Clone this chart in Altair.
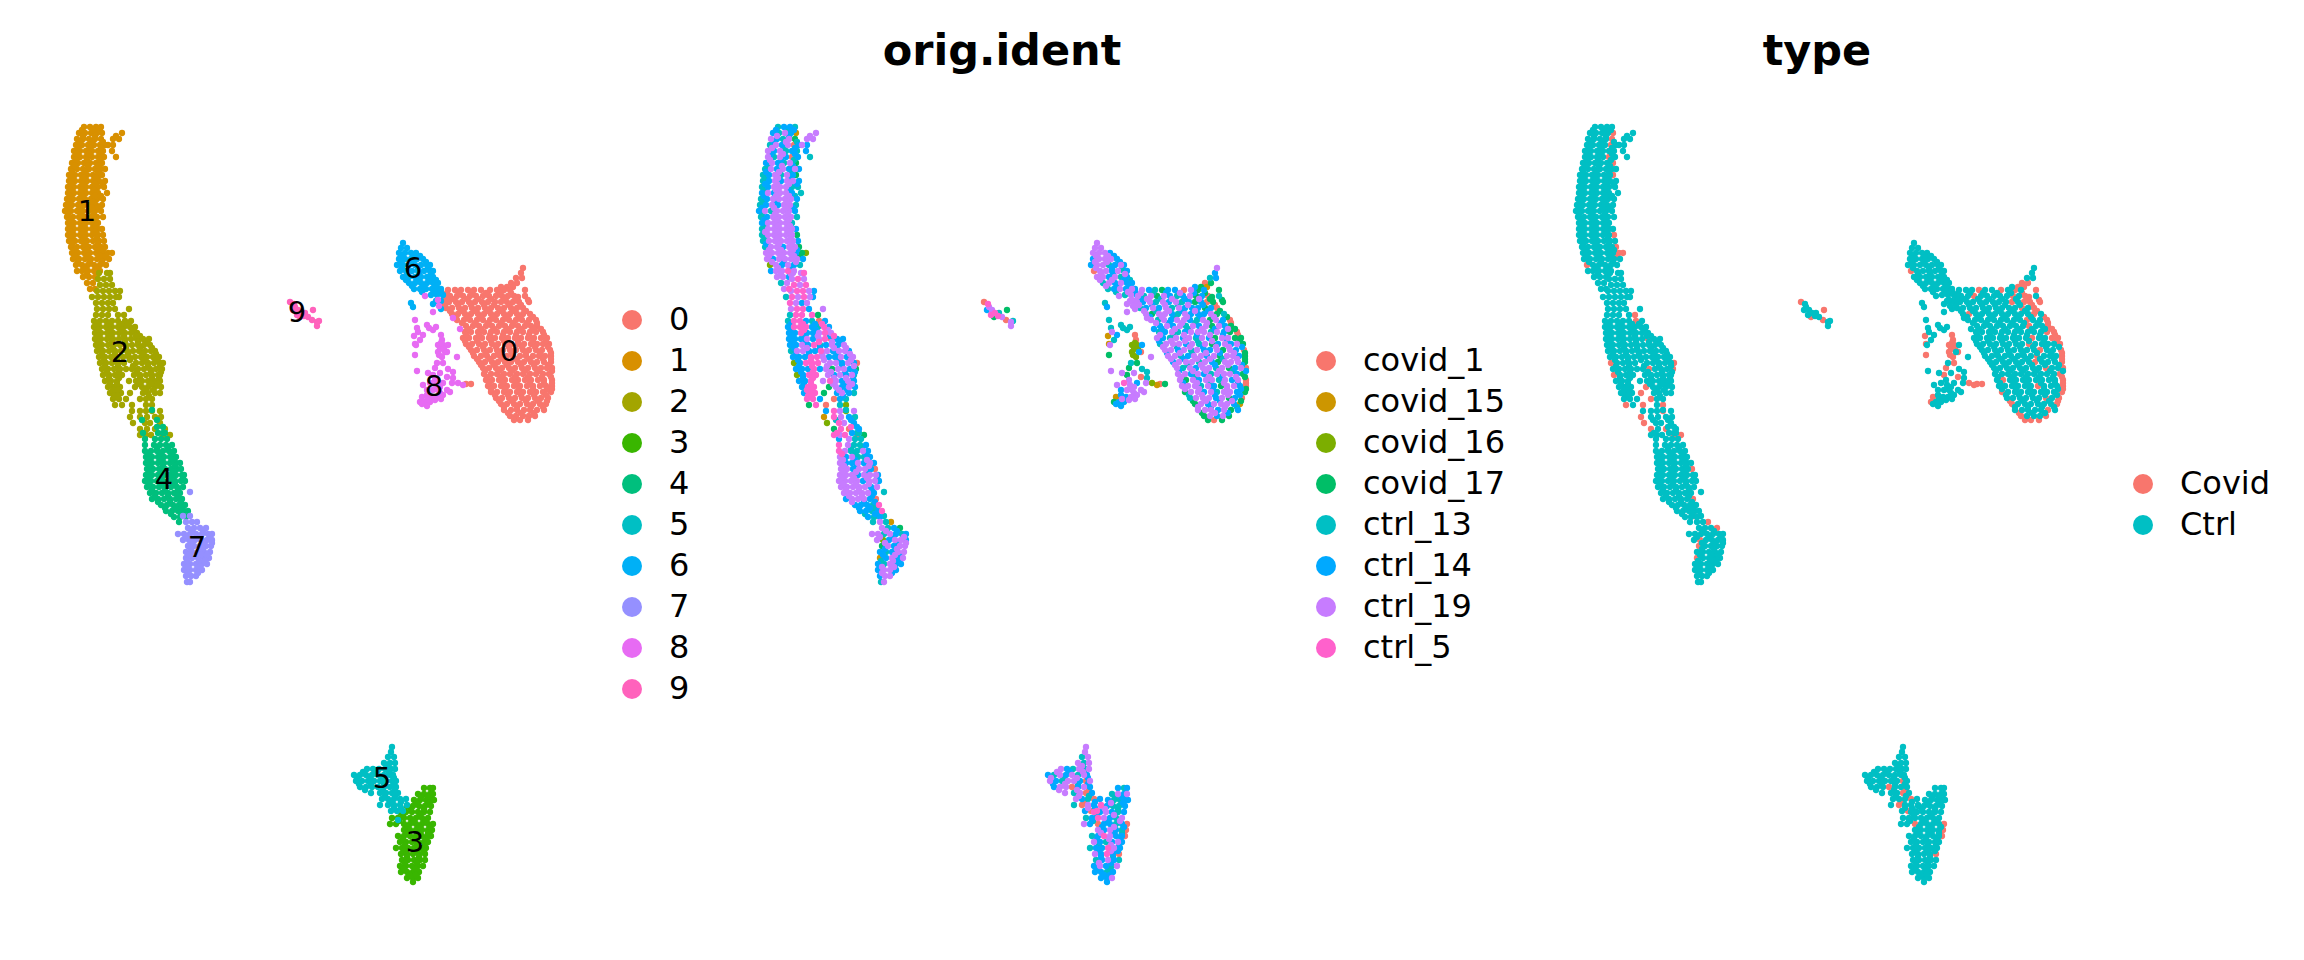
import altair as alt
import pandas as pd

# Every row: (y, x positions read along that row, sample code of each point)
C0 = [(268,"523","g"),(273,"521","f"),(278,"516 522","ef"),(283,"511 517","ad"),(287,"501 507 513","fdb"),
(290,"448 455 461 468 474 481 490 497 504 510","gfedffagdf"),
(296,"444 450 457 463 470 476 483 489 496 502 508 514 525","gegdgfefgdfae"),
(302,"443 449 456 462 469 475 482 488 495 501 507 513 519 529","gfgegfgefdfadd"),
(308,"446 452 459 465 472 478 485 491 498 504 511 517 523","efgfgegfffdfa"),
(314,"452 458 465 471 478 484 491 497 504 510 517 523 530","gdggfegfffgde"),
(320,"457 464 470 477 483 490 496 503 509 516 522 529 536","gegfggfegdgfa"),
(326,"466 473 479 486 492 499 505 512 518 525 531 537","fgfgegfgdgfd"),
(332,"465 471 478 484 491 497 504 510 517 523 530 536 543","efgefgggegfda"),
(338,"463 469 476 482 489 495 502 508 515 521 528 534 541 547","gfegfgegfdggdd"),
(344,"466 472 479 485 492 498 505 511 518 524 531 537 543 549","egggfgegdfgfgd"),
(350,"471 477 484 490 497 503 510 516 523 529 536 542 550","ggfgegffgdgfa"),
(356,"474 481 487 494 500 507 513 520 526 533 539 545 551","ggefggfgdggfd"),
(362,"479 485 492 498 505 511 518 524 531 537 544 551","fgggegfdgggd"),
(368,"483 489 496 502 509 515 522 528 535 541 547 552","gegfggegdfga"),
(374,"484 491 497 504 510 517 523 530 536 543 549","ggfgfegggfd"),
(380,"486 492 499 505 512 518 525 531 538 544 552","gdgfggegfga"),
(386,"488 494 501 507 514 520 527 533 540 546 552","gggegfdggfa"),
(392,"491 497 504 510 517 523 530 536 543 551","dggfgeggfd"),
(398,"496 502 509 515 522 528 535 541 548","egggfgdfa"),
(404,"501 507 514 520 527 533 540 546","dgfgggfb"),
(410,"504 511 517 524 530 537 544","gggfgdf"),
(416,"510 516 523 529 535","dgfgd"),
(420,"514 520 528","dad"),
(290,"525","d"),(297,"518","d"),(300,"528","d"),(384,"466 471","ad"),
(293,"447 459 472 486 500 511","gefgfd"),(299,"446 453 467 478 491 505 516","fgegfgd"),
(305,"445 458 471 484 494 509 521","gfgegfa"),(311,"450 462 475 488 501 514 526","gegfgfd"),
(317,"456 468 481 493 507 520 533","fgegfgd"),(323,"462 475 488 501 513 527 537","gfgegfa"),
(329,"468 481 494 508 521 534 541","fgegfgd"),(335,"466 479 490 503 516 529 544","gegfgfa"),
(341,"465 477 491 504 518 533 546","fggegfd"),(347,"469 483 496 509 522 535 548","gegfggf"),
(353,"473 486 498 512 526 540 551","fgegfgd"),(359,"477 490 503 516 529 543 551","gfggegd"),
(365,"481 494 507 521 534 548","gegfgf"),(371,"485 499 512 525 539 552","fgggef"),
(377,"487 501 515 528 542 551","gegfgd"),(383,"489 503 516 530 544 552","fgegfa"),
(389,"491 505 519 533 547 552","ggfgfd"),(395,"495 508 521 534 546","egfgf"),
(401,"499 512 526 538 547","dgfgd"),(407,"504 517 531 543","gfge"),(413,"508 521 534","dgf")]

C1 = [(127,"84 90 96 101","effe"),(133,"79 85 91 97 102 122","fegfbg"),
(139,"77 83 89 95 101 113 119","gfegdgg"),(145,"76 82 88 94 100 105 108 113","egfgafgf"),
(151,"74 80 86 92 98 103 112","gfgefef"),(157,"74 80 86 92 98 104 116","gegfafe"),
(163,"72 78 84 90 96 102","fgfegd"),(169,"71 77 83 89 95 101 105","egfgfgf"),
(175,"69 75 81 87 93 99 102","efgegfd"),(181,"69 75 81 87 93 99 105","efgfggf"),
(187,"68 74 80 86 92 98 104","efgggee"),(193,"68 74 80 86 92 98 107","fgfggfe"),
(199,"67 73 79 85 91 97 103","efggggf"),(205,"66 72 78 84 90 96 102","efgfgge"),
(211,"65 71 77 83 89 95 101","fgegggf"),(217,"67 73 79 85 91 97 103","efgggge"),
(223,"68 74 80 86 92 98","fgggge"),(229,"68 74 80 86 92 98 102","egggggf"),
(235,"68 74 80 86 92 98 103","egggggd"),(241,"69 75 81 87 93 99 104","egggggf"),
(247,"71 77 83 89 95 101 105","eggfggd"),(253,"72 78 84 90 96 102 108 112","gggggfdc"),
(259,"73 79 85 91 97 103 109","gfggggf"),(265,"76 82 88 94 100 106","cgfgfe"),
(271,"77 82 88 94 100","fgghg"),(277,"83 89 95","ggf"),(283,"87 93","eg"),(289,"90 95","gh"),
(130,"82 93 100","fef"),(136,"83 95 116","gfg"),(142,"80 92 103","fge"),(148,"78 90 101","gef"),
(154,"77 89 101","fgf"),(160,"76 87 100","gfe"),(166,"75 88 99","egf"),(172,"72 85 98","fge"),
(178,"72 84 96","egf"),(184,"71 83 95 103","fggf"),(190,"70 82 94","egf"),(196,"70 82 95 101","fgge"),
(202,"69 81 93","efg"),(208,"68 80 92 99","fggf"),(214,"68 81 94","egg"),(220,"70 83 95","fgg"),
(226,"71 84 96","egg"),(232,"71 83 95","ggg"),(238,"71 84 97","egg"),(244,"72 85 98","fgg"),
(250,"75 87 99 103","gggf"),(256,"75 88 100 106","gggd"),(262,"78 90 102","gfg"),(268,"84 96","gf"),(274,"87 97","gg")]

C2 = [(273,"99 107 110","ggh"),(279,"98 104 110","ghg"),(285,"100 106 112","hgh"),
(291,"97 103 109 115 120","ghhgf"),(297,"92 98 104 110 116 119","ehghgf"),
(303,"96 102 108 113","hgfg"),(309,"97 103 109 115 129","ghhfg"),
(315,"96 102 108 118 124","ehhhd"),(321,"94 100 106 112 118 125 131","ehhfeaf"),
(327,"94 100 106 112 118 124 130 135","fhhhfehf"),(333,"95 101 107 113 119 125 131 137","ffhffghg"),
(339,"95 101 107 113 119 125 131 137 143 149","fffgfghaff"),(345,"96 102 108 114 120 126 132 138 144 150","ffgfhefgfg"),
(351,"97 103 109 115 121 127 133 139 145 151 155","eggffhgfggf"),(357,"99 105 111 117 123 129 135 141 147 153 159","fffhhgffgfg"),
(363,"100 106 112 118 124 136 142 148 154 160 163","cfhhhggfgfa"),(369,"102 108 114 120 126 132 138 144 150 156 162","fffhfgdggfd"),
(375,"103 109 115 122 134 140 146 152 158 160","cfhhgfgfge"),(381,"105 111 117 129 136 142 148 154 160","ffhghgfgf"),
(387,"108 114 120 135 142 148 155 161","fhhdgfgf"),(393,"110 116 121 130 143 148 155 160","fhhdfgfe"),
(399,"113 119 126 140 146 152","hhfafe"),(405,"115 122 132 146 152","dhaec"),
(411,"132 140 146 152 160","fhgcg"),(417,"130 140 147 155 161","bhgfe"),
(423,"133 145 150 160","chgf"),(429,"140 147 155 165","dhaf"),(435,"140 146 151 163 170","hghad"),
(324,"97 109 121 128","fhfh"),(330,"98 110 122 134","fhfg"),(336,"98 111 124 136 140","ffgfh"),
(342,"99 112 125 138 147","ffhgf"),(348,"100 113 126 140 152","fgfgg"),(354,"102 115 128 143 156","ffgfg"),
(360,"104 117 130 145 157","fhgfg"),(366,"105 118 133 148 160","fhgfg"),(372,"107 119 137 151 161","fhgff"),
(378,"109 119 140 152 159","fhggf"),(384,"110 117 139 151 158","fhgfg"),(390,"113 118 145 153","hhgf"),
(396,"114 118 149","hhf")]

C3 = [(788,"424 430 433","fef"),(794,"418 424 430 433","egfg"),(800,"414 420 426 432 434","feeff"),
(806,"407 413 419 425 431","gfeef"),(812,"400 406 412 418 424 430","hfgfef"),
(818,"392 398 404 410 416 422 428","efhgfeg"),(824,"390 396 404 410 416 422 428 433","gfaffefa"),
(830,"404 410 416 422 428 432","gfgfea"),(836,"398 404 410 416 422 428 431","efhgffa"),
(842,"400 406 412 418 424 428","gfefgf"),(848,"396 402 408 414 420 426","effhgf"),
(854,"401 407 413 419 425","gfhfa"),(860,"402 408 414 420 425","efgfe"),(866,"400 406 412 418 423","fgfeg"),
(872,"401 407 413 419","ffef"),(878,"407 413 418","ffg"),(882,"413","f"),
(797,"421 428","ef"),(803,"417 429","gf"),(809,"411 424","ge"),(815,"403 420","fg"),(821,"399 414 426","efg"),
(827,"408 420 430","fgf"),(833,"407 419 428","gfe"),(839,"403 415 426","fgf"),(845,"405 417 425","egf"),
(851,"404 417 424","fgf"),(857,"407 419","fe"),(863,"405 417","gf"),(869,"404 416","fe"),(875,"410 416","ff")]

C4 = [(410,"152","e"),(420,"142 157","ef"),(427,"157 163","hf"),(433,"143 158 163 165","hfee"),
(439,"145 155 161 167","fgee"),(445,"145 154 160 166 172","hgeef"),(451,"145 151 157 163 169 174","hgeegf"),
(457,"146 152 158 164 170 176","gfgeef"),(463,"146 152 158 164 170 176 180","gffgfgf"),
(469,"147 153 159 165 171 177 181","ggfggfa"),(475,"146 152 158 164 170 176 182 184","gggfgggf"),
(481,"145 151 157 163 169 175 181 185","ggggfggf"),(487,"147 153 159 165 171 177 183","gggggfg"),
(493,"150 156 162 168 174 180","gggggf"),(499,"152 158 164 170 176 182","fgggfa"),
(505,"161 167 173 179 185","fffeh"),(511,"166 172 178 184 188","ffefh"),(517,"174 180 186","fef"),(522,"179","e"),
(448,"157 168","ee"),(454,"148 160 172","hef"),(460,"149 161 173","gfg"),(466,"150 163 175","gfg"),
(472,"149 162 174","ggf"),(478,"148 160 173 183","gggf"),(484,"149 162 175","ggg"),(490,"152 165 178","ggf"),
(496,"155 168 178","ggf"),(502,"158 170 181","gff"),(508,"165 176 182","ffe"),(514,"171 181","ef")]

C5 = [(747,"392","g"),(752,"391","g"),(757,"388 394","eg"),(763,"384 390 395","geg"),
(769,"367 373 379 385 391 395","gfegeg"),(775,"354 360 366 372 378 384 390 393","fegfgegf"),
(781,"356 362 368 374 380 386 392 396","gfeggfag"),(787,"360 366 372 378 384 390 396","fggafgf"),
(793,"371 380 386 392 398","gegaf"),(799,"382 388 394 400 406","gfeaf"),
(805,"380 388 394 400 407","eagfh"),(811,"391 397 403","fah"),(820,"398","f"),
(766,"388","g"),(772,"363 376 389","gfg"),(778,"357 370 383 394","gegf"),(784,"359 371 384 394","fgef"),
(790,"365 383 395","gga"),(796,"385 395","ge"),(802,"391 401","af"),(808,"394 401","gf")]

C6 = [(243,"403","g"),(248,"401 407","gg"),(253,"399 405 411 416","gggf"),(259,"399 405 411 417 423","fgggf"),
(265,"397 403 409 415 421 427 430","fggefgf"),(271,"400 406 412 418 424 430 433","aggfgef"),
(277,"403 409 415 421 427 433","ggfgef"),(283,"409 415 421 427 433 438","egfgff"),
(289,"414 420 426 432 438 441","efgfgf"),(295,"431 437 443","egf"),(301,"436 441","gg"),
(303,"411","e"),(307,"413","f"),(304,"433","g"),(309,"441","g"),
(256,"402 414 420","ggf"),(262,"401 413 426","ggf"),(268,"402 418 428","gfe"),(274,"407 419 431","gfg"),
(280,"406 418 430 436","ggfe"),(286,"412 424 436","gff"),(292,"422 434 441","egf")]

C7 = [(492,"190","e"),(516,"183 190","ae"),(522,"186 192 197","geb"),(528,"188 194 200 206","gefd"),
(534,"178 184 190 196 202 208 212","ggegfef"),(540,"183 189 195 201 207 212","gcfggf"),
(546,"188 194 200 206 211","dgfgg"),(552,"186 192 198 204 210","fefgg"),(558,"186 192 198 204 209","bfgfg"),
(564,"184 190 196 202 207","fegff"),(570,"184 190 196 202","fggf"),(576,"186 191 196","fgg"),(582,"187 190","eg"),
(531,"192 203","gf"),(537,"186 199 210","gfg"),(543,"191 204 212","gfg"),(549,"191 203","fg"),
(555,"189 201 207","fgf"),(561,"187 199 205","egf"),(567,"188 200","gg"),(573,"188 198","gf")]

C8 = [(296,"425","g"),(300,"438","g"),(312,"433","g"),(306,"439","g"),(320,"415","e"),(328,"417","e"),
(332,"418","g"),(325,"427","e"),(328,"429","e"),(327,"436","e"),(330,"433","e"),(335,"423","f"),
(340,"420","e"),(345,"416","g"),(329,"460","f"),(318,"453","g"),
(335,"441","a"),(340,"442","a"),(345,"438 443 448","ccf"),(352,"438 445 447","cfa"),(357,"442 457","cg"),
(349,"440 444","cc"),(343,"441","c"),(355,"439","c"),
(363,"443 437","de"),(368,"435","d"),(371,"417","g"),(369,"448","e"),(372,"453","e"),(373,"440 428","gg"),
(377,"447","a"),(375,"433","d"),(378,"453","e"),(383,"458 452 443 430","cgfh"),(385,"463 423","bg"),
(390,"447 427 433","gfg"),(393,"440","g"),(380,"435","g"),(387,"440","g"),(392,"450","g"),
(397,"422 432 437","bfg"),(395,"427 443","fg"),(402,"420 425 430","dff"),(400,"435","g"),(406,"427","f"),
(399,"428 441","gg"),(390,"438","g"),(404,"422","f"),(385,"436","g"),(336,"414","b"),(355,"415","d"),(344,"415","b")]

C9 = [(302,"290","a"),(307,"295","g"),(310,"298 293 313","gfd"),(315,"297","h"),(313,"305","e"),
(317,"308 300","gd"),(320,"312","a"),(322,"317","g"),(321,"319","e"),(326,"317","g"),
(304,"294","h"),(313,"301","h"),(316,"304","h")]

CLUSTERS = ["0","1","2","3","4","5","6","7","8","9"]
CLUSTER_COLORS = ["#F8766D","#D89000","#A3A500","#39B600","#00BF7D","#00BFC4","#00B0F6","#9590FF","#E76BF3","#FF62BC"]
SAMPLES = ["covid_1","covid_15","covid_16","covid_17","ctrl_13","ctrl_14","ctrl_19","ctrl_5"]
SAMPLE_CODES = "abcdefgh"
SAMPLE_COLORS = ["#F8766D","#CD9600","#7CAE00","#00BE67","#00BFC4","#00A9FF","#C77CFF","#FF61CC"]
TYPES = ["Covid","Ctrl"]
TYPE_COLORS = ["#F8766D","#00BFC4"]
LABEL_X = [509,87,120,415,164,382,413,197,434,297]
LABEL_Y = [352,212,353,843,480,779,269,548,387,313]

records = []
for name, rows in zip(CLUSTERS, [C0,C1,C2,C3,C4,C5,C6,C7,C8,C9]):
    for y, xs, codes in rows:
        xs = xs.split()
        for x, c in zip(xs, codes.ljust(len(xs), codes[-1])):
            s = SAMPLES[SAMPLE_CODES.index(c)]
            records.append(dict(x=float(x), y=y, cluster=name, sample=s,
                                type="Covid" if s.startswith("covid") else "Ctrl"))
df = pd.DataFrame(records)

HEIGHT = 940
X0, Y0 = 8, 8
FONT = "DejaVu Sans"

def panel(data, field, domain, colors, width, lx, ly):
    return alt.Chart(data).mark_circle(size=40, opacity=1).encode(
        x=alt.X("x:Q", axis=None, scale=alt.Scale(domain=[X0, X0+width], nice=False, zero=False)),
        y=alt.Y("y:Q", axis=None, scale=alt.Scale(domain=[Y0+HEIGHT, Y0], nice=False, zero=False)),
        color=alt.Color(f"{field}:N", scale=alt.Scale(domain=domain, range=colors),
            legend=alt.Legend(title=None, orient="none", legendX=lx, legendY=ly, symbolSize=400,
                symbolType="circle", symbolOpacity=1, labelFont=FONT, labelFontSize=32, labelColor="black",
                labelOffset=21, rowPadding=9, padding=0, labelLimit=300,
                values=domain)),
    )

def title_layer(text, x, width):
    t = pd.DataFrame({"x":[x],"y":[52],"t":[text]})
    return alt.Chart(t).mark_text(font=FONT, fontWeight="bold", fontSize=43, color="black", baseline="middle", align="center").encode(
        x=alt.X("x:Q", axis=None, scale=alt.Scale(domain=[X0, X0+width], nice=False, zero=False)),
        y=alt.Y("y:Q", axis=None, scale=alt.Scale(domain=[Y0+HEIGHT, Y0], nice=False, zero=False)),
        text="t:N")

W1, W2, W3 = 694, 817, 732

labels = pd.DataFrame({"x":LABEL_X,"y":LABEL_Y,"t":CLUSTERS})
label_layer = alt.Chart(labels).mark_text(font=FONT, fontSize=29, color="black", baseline="middle", align="center").encode(
    x=alt.X("x:Q", axis=None, scale=alt.Scale(domain=[X0, X0+W1], nice=False, zero=False)),
    y=alt.Y("y:Q", axis=None, scale=alt.Scale(domain=[Y0+HEIGHT, Y0], nice=False, zero=False)),
    text="t:N")

p1 = alt.layer(panel(df, "cluster", CLUSTERS, CLUSTER_COLORS, W1, 608, 296), label_layer).properties(width=W1, height=HEIGHT)
df2 = df.assign(o=df["sample"].map(SAMPLES.index)).sort_values("o", kind="stable")
p2 = alt.layer(panel(df2, "sample", SAMPLES, SAMPLE_COLORS, W2, 608, 337), title_layer("orig.ident", 308, W2)).properties(width=W2, height=HEIGHT)
df3 = df.assign(o=df["type"].map(TYPES.index)).sort_values("o", kind="stable")
p3 = alt.layer(panel(df3, "type", TYPES, TYPE_COLORS, W3, 608, 460), title_layer("type", 306, W3)).properties(width=W3, height=HEIGHT)

chart = alt.hconcat(p1, p2, p3, spacing=0).resolve_scale(color="independent", x="independent", y="independent").configure_view(stroke=None).properties(padding=0, background="white")
chart.save("out.html", embed_options={"renderer": "svg", "actions": False})
